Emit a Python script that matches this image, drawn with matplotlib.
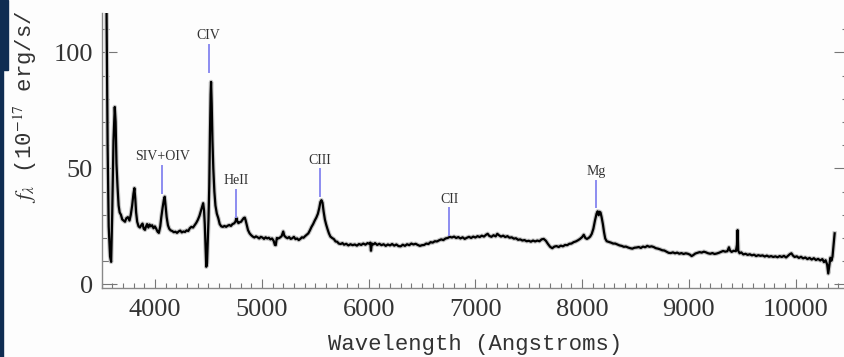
import matplotlib
matplotlib.use('Agg')
import matplotlib.pyplot as plt
from matplotlib.patches import Rectangle
from matplotlib.ticker import MultipleLocator

# spectrum (Angstrom, 1e-17 erg/s/cm2/A)
wave = [3535, 3545, 3555, 3565, 3578, 3588, 3598, 3610, 3622, 3630, 3638, 3648, 3658, 3668, 3680,
        3692, 3705, 3718, 3730, 3745, 3760, 3772, 3785, 3797, 3806, 3814, 3822, 3832, 3845, 3858,
        3870, 3882, 3893, 3905, 3915, 3925, 3937, 3948, 3960, 3972, 3985, 3998, 4010, 4022, 4035,
        4048, 4058, 4070, 4082, 4090, 4098, 4108, 4120, 4132, 4145, 4160, 4175, 4190, 4205, 4220,
        4235, 4250, 4265, 4280, 4295, 4310, 4325, 4340, 4355, 4370, 4385, 4400, 4415, 4428, 4440,
        4450, 4458, 4465, 4472, 4479, 4486, 4493, 4500, 4507, 4514, 4520, 4524, 4530, 4537, 4545,
        4555, 4565, 4578, 4592, 4605, 4620, 4635, 4650, 4665, 4680, 4695, 4710, 4725, 4740, 4752,
        4762, 4770, 4780, 4792, 4805, 4818, 4830, 4840, 4848, 4858, 4870, 4885, 4900, 4915, 4930,
        4945, 4960, 4975, 4990, 5005, 5020, 5035, 5050, 5065, 5080, 5095, 5110, 5122, 5130, 5140,
        5155, 5170, 5185, 5200, 5210, 5225, 5240, 5255, 5270, 5285, 5300, 5315, 5330, 5345, 5360,
        5375, 5390, 5405, 5420, 5435, 5450, 5465, 5480, 5495, 5510, 5525, 5538, 5548, 5558, 5568,
        5578, 5590, 5602, 5615, 5628, 5642, 5658, 5675, 5690, 5705, 5720, 5738, 5755, 5770, 5790,
        5810, 5830, 5850, 5870, 5890, 5910, 5930, 5950, 5970, 5990, 6005, 6015, 6022, 6030, 6045,
        6060, 6080, 6100, 6120, 6140, 6160, 6180, 6200, 6220, 6240, 6260, 6280, 6300, 6320, 6340,
        6360, 6380, 6400, 6420, 6440, 6460, 6480, 6500, 6520, 6540, 6560, 6580, 6600, 6620, 6640,
        6660, 6680, 6700, 6720, 6740, 6760, 6780, 6800, 6820, 6840, 6860, 6880, 6900, 6920, 6940,
        6960, 6980, 7000, 7020, 7040, 7060, 7080, 7100, 7115, 7130, 7150, 7170, 7190, 7205, 7220,
        7240, 7260, 7280, 7300, 7320, 7340, 7360, 7380, 7400, 7420, 7440, 7460, 7480, 7500, 7520,
        7540, 7560, 7580, 7600, 7620, 7640, 7660, 7680, 7700, 7720, 7740, 7760, 7780, 7800, 7820,
        7840, 7860, 7880, 7900, 7920, 7940, 7960, 7980, 8000, 8015, 8030, 8045, 8060, 8075, 8090,
        8105, 8120, 8135, 8145, 8155, 8163, 8172, 8182, 8194, 8205, 8216, 8230, 8250, 8270, 8290,
        8310, 8330, 8350, 8370, 8390, 8410, 8430, 8450, 8470, 8490, 8510, 8530, 8550, 8570, 8590,
        8610, 8630, 8650, 8670, 8690, 8710, 8730, 8750, 8770, 8790, 8810, 8830, 8850, 8870, 8890,
        8910, 8930, 8950, 8970, 8990, 9010, 9025, 9040, 9060, 9080, 9100, 9120, 9140, 9160, 9180,
        9200, 9220, 9240, 9260, 9280, 9300, 9320, 9340, 9360, 9375, 9385, 9400, 9420, 9440, 9450,
        9456, 9462, 9475, 9490, 9510, 9530, 9550, 9570, 9590, 9610, 9630, 9650, 9670, 9690, 9710,
        9730, 9750, 9770, 9790, 9810, 9830, 9850, 9870, 9890, 9910, 9930, 9945, 9960, 9975, 9990,
        10010, 10030, 10050, 10070, 10090, 10110, 10130, 10150, 10170, 10190, 10210, 10230, 10250, 10265, 10280,
        10295, 10305, 10315, 10325, 10335, 10345, 10355, 10365]
flux = [125, 118, 60, 25, 12, 9.7, 30, 62, 76.5, 70, 52, 42, 34, 31, 30,
        28, 27.5, 27, 28.5, 29, 27.5, 30, 34, 39, 41.5, 37, 31, 27, 25, 24.5,
        25.5, 26.2, 24, 23.5, 25, 26, 24.5, 25.8, 25, 25.5, 24.2, 25, 24, 22.8, 22.2,
        25, 29, 33, 36.5, 37.8, 34, 29, 25.5, 24, 23.3, 23, 22.5, 22.7, 22.2, 22.8,
        23.2, 22.4, 22.8, 22.6, 23.3, 23, 24.2, 24.8, 24.5, 25.5, 26.5, 27.8, 29.5, 31.5, 33.5,
        35, 32, 26, 17, 7.6, 9, 18, 28, 42, 66, 82, 87.3, 78, 62, 50,
        40, 34, 30.5, 28.5, 26, 25, 24.8, 25.2, 24.8, 25.3, 25.6, 25.2, 26, 26.3, 27,
        28.6, 27.2, 26.4, 26.8, 27, 27.8, 28.6, 28.8, 27.6, 25.6, 23.4, 22, 21.2, 20.6, 20.2,
        20.7, 20.3, 19.8, 20.5, 20.2, 19.6, 20.3, 19.8, 20.1, 19.4, 19.8, 18.8, 17, 16.9, 20,
        19.8, 20.2, 20.8, 22.8, 21, 20.3, 19.9, 20.4, 19.6, 19.9, 20.5, 19.5, 19.8, 19.1, 19.6,
        20.3, 20.1, 20.8, 21.4, 22, 23.3, 24.8, 26, 27.5, 28.8, 30.5, 33, 35.5, 36.3, 35.2,
        31.5, 28, 25.8, 23.8, 22, 20.6, 20, 19.5, 18.5, 18.4, 17.6, 17.4, 17.8, 17.1, 17.5,
        16.8, 17.3, 16.9, 17.2, 16.7, 17.4, 17, 17.6, 17.1, 17.8, 17.5, 18, 14.5, 17.6, 17.2,
        17.8, 17, 17.5, 16.9, 17.3, 16.6, 17.2, 16.8, 17.4, 16.7, 17.2, 16.5, 16.4, 17.1, 16.6,
        17.3, 16.9, 17.6, 17.2, 17.5, 17, 16.6, 16.9, 17, 17.6, 17.4, 18.2, 18, 18.6, 18.5,
        19, 19.4, 19.1, 19.8, 20, 20.5, 20.2, 20.6, 20, 20.4, 19.8, 20.3, 19.6, 20.1, 20.5,
        20, 20.6, 20.2, 20.8, 20.4, 21, 20.6, 21.4, 21.8, 20.9, 20.5, 21.2, 20.7, 21.8, 21.2,
        20.6, 21, 20.4, 20.8, 20.1, 20.3, 19.7, 19.9, 19.2, 19.4, 18.9, 19.1, 18.6, 18.8, 18.4,
        18.9, 18.5, 18.9, 18.6, 19.4, 19.6, 18.8, 17.4, 16.2, 15.6, 16.3, 16.5, 16.1, 16.7, 16.4,
        17, 16.9, 17.5, 17.6, 18.2, 18.5, 19, 19.6, 20.4, 21.4, 20, 19.6, 20, 20.6, 21.8,
        24, 27.5, 30.5, 31.5, 29.8, 31.3, 31, 29, 26, 22.5, 19.8, 18.6, 18.3, 18, 17.6,
        17.6, 17.2, 16.8, 16.6, 16.2, 16.3, 15.9, 15.6, 15.4, 15.8, 15.9, 16.1, 15.7, 16.3, 16,
        16.6, 16.2, 16.4, 16.1, 15.6, 15.4, 15.1, 14.7, 14.6, 14.1, 13.6, 13.5, 13.8, 13.4, 13.7,
        13.2, 13.5, 13.1, 13.4, 13.2, 12.8, 12.2, 12.6, 13.3, 13.6, 13.9, 13.7, 14.1, 13.8, 13.4,
        13.2, 13.5, 13.1, 13.3, 13.6, 14, 14.4, 14.1, 14.3, 16, 14.6, 14, 14.5, 14.3, 17,
        23.4, 14.5, 13.4, 13.8, 12.9, 13.2, 12.7, 13, 12.5, 12.8, 12.2, 12.6, 12.3, 12.5, 12,
        12.4, 11.9, 12.2, 11.8, 12.1, 11.7, 12.2, 11.8, 12.3, 11.6, 12.4, 13, 13.4, 12.4, 11.8,
        12.1, 11.4, 11.9, 11.2, 11.6, 10.9, 11.4, 10.7, 11.3, 10.5, 11, 10.3, 10.9, 9.6, 10.4,
        8.5, 4.7, 8, 11.5, 10.2, 12, 17, 22]

# emission line markers
line_names = ['SIV+OIV', 'CIV', 'HeII', 'CIII', 'CII', 'Mg']
line_waves = [4066, 4501, 4761, 5543, 6755, 8132]
line_base = [39.5, 91.6, 29.1, 38.1, 21.3, 33.2]

plt.rcParams['font.family'] = 'Liberation Serif'
plt.rcParams['mathtext.fontset'] = 'stix'

fig = plt.figure(figsize=(8.45, 3.57), dpi=100, facecolor='#fdfdfd')
ax = fig.add_axes([0.1204, 0.1924, 0.8844, 0.7711])
ax.set_facecolor('#fdfdfd')

# soft grey halo under the black trace, like the screenshot
ax.plot(wave, flux, color='#c4c4c4', lw=3.2, solid_joinstyle='round')
ax.plot(wave, flux, color='black', lw=1.6, solid_joinstyle='round')

for name, lam, lo in zip(line_names, line_waves, line_base):
    ax.plot([lam, lam], [lo, lo + 11.5], color='#8c8cf0', lw=1.4)
    ax.text(lam, lo + 15.5, name, ha='center', va='center', fontsize=10, color='#333333')

ax.set_xlim(3500, 10500)
ax.set_ylim(-1.7, 117)
ax.xaxis.set_major_locator(MultipleLocator(1000))
ax.xaxis.set_minor_locator(MultipleLocator(100))
ax.yaxis.set_major_locator(MultipleLocator(50))
ax.yaxis.set_minor_locator(MultipleLocator(10))

ax.spines['top'].set_visible(False)
for s in ['left', 'bottom', 'right']:
    ax.spines[s].set_color('#888888')
    ax.spines[s].set_linewidth(1.0)

ax.tick_params(which='both', direction='in', top=False, right=True, color='#777777', width=0.8,
               labelsize=19, labelcolor='#333333')
ax.tick_params(axis='x', which='major', length=6.5, pad=8)
ax.tick_params(axis='x', which='minor', length=3.6)
ax.tick_params(axis='y', which='major', length=10.8, pad=6.5)
ax.tick_params(axis='y', which='minor', length=5)

ax.set_xlabel('Wavelength (Angstroms)', family='Liberation Mono', fontsize=16, color='#333333', va='center')
ax.xaxis.set_label_coords(0.5, -0.2023)

# the y label is cut by the top of the screenshot; only this part shows
fig.text(25 / 845, (357 - 203) / 357, r'$f_\lambda$ (10$^{-17}$ erg/s/', rotation=90,
         ha='center', va='bottom', family='Liberation Mono', fontsize=16, color='#333333')

# dark frame edge left over from the screenshot
fig.patches.append(Rectangle((0, 1 - 70 / 357), 8 / 845, 70 / 357, transform=fig.transFigure,
                             color='#0f2d52', zorder=10))
fig.patches.append(Rectangle((0, 0), 3 / 845, 1, transform=fig.transFigure, color='#0f2d52', zorder=10))

fig.savefig('out.png', dpi=100, facecolor=fig.get_facecolor())
